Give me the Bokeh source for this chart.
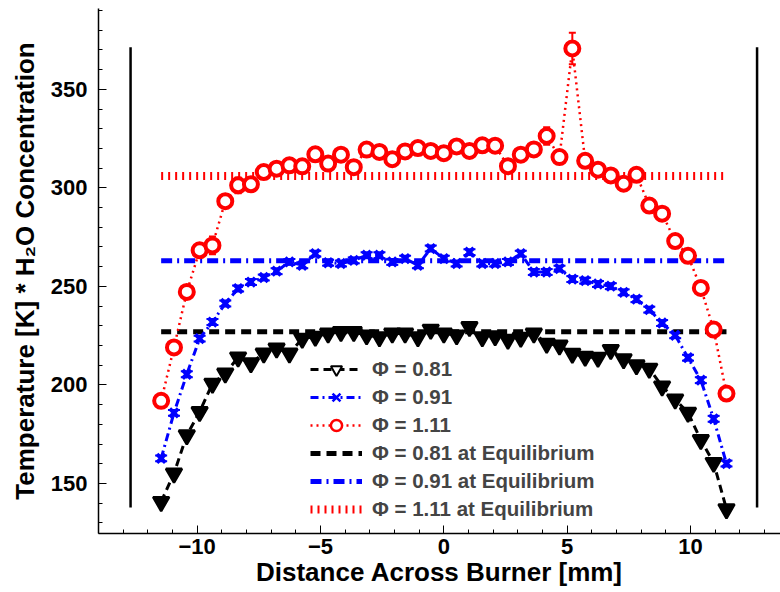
from bokeh.plotting import figure
from bokeh.models import (Range1d, SingleIntervalTicker, Whisker, TeeHead,
                          ColumnDataSource, Legend, LegendItem)
from bokeh.embed import file_html
from bokeh.resources import INLINE

# ---------------- data ----------------
distance_mm = [-11.46, -10.94, -10.42, -9.90, -9.38, -8.86, -8.34, -7.82, -7.30, -6.78,
               -6.26, -5.74, -5.21, -4.69, -4.17, -3.65, -3.13, -2.61, -2.09, -1.57,
               -1.05, -0.53, 0.00, 0.52, 1.04, 1.56, 2.08, 2.60, 3.12, 3.65,
               4.17, 4.69, 5.21, 5.73, 6.25, 6.77, 7.29, 7.81, 8.33, 8.85,
               9.38, 9.90, 10.42, 10.94, 11.46]

phi_081 = [140.7, 155.1, 174.5, 186.3, 200.7, 205.8, 214.0, 211.0, 216.0, 218.5,
           216.0, 223.5, 224.5, 226.1, 226.9, 226.9, 225.2, 224.3, 226.1, 226.1,
           224.3, 228.1, 226.1, 225.2, 229.4, 224.3, 224.7, 223.0, 224.0, 226.1,
           221.0, 220.0, 215.9, 214.3, 213.8, 217.8, 213.1, 210.0, 208.3, 199.3,
           192.7, 185.9, 172.1, 160.5, 137.0]

phi_091 = [162.7, 185.8, 205.4, 223.5, 231.9, 241.3, 248.9, 252.2, 254.5, 257.7,
           262.4, 260.7, 266.6, 262.0, 261.6, 263.2, 265.8, 265.8, 262.4, 264.1,
           260.7, 269.2, 264.1, 261.6, 267.4, 261.6, 261.6, 262.4, 266.6, 257.3,
           257.3, 259.0, 253.7, 252.9, 251.2, 250.1, 247.0, 243.5, 238.2, 231.4,
           225.2, 213.8, 202.4, 182.8, 160.1]

phi_111 = [191.9, 219.0, 247.2, 268.3, 270.8, 293.2, 301.3, 301.8, 308.0, 309.7,
           311.4, 310.9, 317.0, 312.3, 316.8, 310.5, 319.4, 318.2, 314.5, 318.5,
           320.2, 318.7, 317.6, 321.0, 318.7, 321.6, 321.4, 311.0, 316.8, 319.5,
           326.3, 315.6, 370.7, 313.7, 309.2, 306.3, 302.1, 306.6, 291.0, 286.9,
           273.0, 265.5, 249.2, 228.1, 195.6]

err_081 = [1.0] * 45
err_091 = [1.5] * 45
err_111 = [1.0, 1.0, 1.0, 1.0, 4.5, 1.0, 4.0, 1.0, 1.0, 1.0,
           1.0, 1.0, 1.0, 1.0, 1.0, 1.0, 1.0, 1.0, 1.0, 1.0,
           1.0, 1.0, 1.0, 1.0, 1.0, 1.0, 1.0, 1.0, 1.0, 1.0,
           4.5, 1.0, 8.0, 1.0, 1.0, 1.0, 1.0, 1.0, 1.0, 1.0,
           1.0, 1.0, 1.0, 1.0, 1.0]

equilibrium_x = [-11.46, 11.46]
equilibrium_081 = [227.0, 227.0]
equilibrium_091 = [263.0, 263.0]
equilibrium_111 = [306.0, 306.0]

burner_edge_x = [-12.7, 12.7]
burner_edge_bottom = [137.8, 137.8]
burner_edge_top = [371.4, 371.4]

labels = ["Φ = 0.81", "Φ = 0.91", "Φ = 1.11",
          "Φ = 0.81 at Equilibrium", "Φ = 0.91 at Equilibrium", "Φ = 1.11 at Equilibrium"]

FONT = "Liberation Sans"

# ---------------- figure ----------------
p = figure(width=780, height=592, output_backend="svg", toolbar_location=None,
           x_range=Range1d(-14.0, 13.65), y_range=Range1d(124.6, 391.0),
           min_border_left=98, min_border_right=0, min_border_top=8,
           min_border_bottom=59)
p.outline_line_color = None
p.xgrid.visible = False
p.ygrid.visible = False
p.background_fill_color = "white"

src = ColumnDataSource(dict(
    x=distance_mm, y081=phi_081, y091=phi_091, y111=phi_111,
    lo081=[a - b for a, b in zip(phi_081, err_081)], hi081=[a + b for a, b in zip(phi_081, err_081)],
    lo091=[a - b for a, b in zip(phi_091, err_091)], hi091=[a + b for a, b in zip(phi_091, err_091)],
    lo111=[a - b for a, b in zip(phi_111, err_111)], hi111=[a + b for a, b in zip(phi_111, err_111)],
))

# burner edges
p.segment(x0=burner_edge_x, y0=burner_edge_bottom, x1=burner_edge_x, y1=burner_edge_top,
          line_color="black", line_width=2.5)

# equilibrium lines
eq081 = p.line(equilibrium_x, equilibrium_081, line_color="black", line_width=5, line_dash="10 6")
eq091 = p.line(equilibrium_x, equilibrium_091, line_color="blue", line_width=5, line_dash="11 5 2 5")
eq111 = p.line(equilibrium_x, equilibrium_111, line_color="red", line_width=8, line_dash="2 5")

# data lines
l081 = p.line("x", "y081", source=src, line_color="black", line_width=3, line_dash="8 5")
l091 = p.line("x", "y091", source=src, line_color="blue", line_width=3, line_dash="8 4 2 4")
l111 = p.line("x", "y111", source=src, line_color="red", line_width=2.5, line_dash="2 4")

# markers
s081 = p.scatter("x", "y081", source=src, marker="inverted_triangle", size=16,
                 fill_color="black", line_color="black", line_width=2.5)
s091 = p.scatter("x", "y091", source=src, marker="x", size=12,
                 line_color="blue", line_width=4)
s111 = p.scatter("x", "y111", source=src, marker="circle", size=14,
                 fill_color="white", line_color="red", line_width=4)

# error bars
for lo, hi, col, w in [("lo081", "hi081", "white", 3), ("lo091", "hi091", "blue", 12),
                       ("lo111", "hi111", "red", 7)]:
    p.add_layout(Whisker(source=src, base="x", lower=lo, upper=hi, dimension="height",
                         line_color=col, line_width=2,
                         upper_head=TeeHead(size=w, line_color=col, line_width=2),
                         lower_head=TeeHead(size=w, line_color=col, line_width=2)))

# legend-only glyphs (lighter marker styling as in the original legend)
lg081 = p.scatter([0], [0], marker="inverted_triangle", size=12, fill_color="white",
                  line_color="black", line_width=2, visible=False)
lg091 = p.scatter([0], [0], marker="x", size=12, line_color="blue", line_width=2.5, visible=False)
lg111 = p.scatter([0], [0], marker="circle", size=12, fill_color="white",
                  line_color="red", line_width=2.5, visible=False)

legend = Legend(items=[
    LegendItem(label=labels[0], renderers=[l081, lg081]),
    LegendItem(label=labels[1], renderers=[l091, lg091]),
    LegendItem(label=labels[2], renderers=[l111, lg111]),
    LegendItem(label=labels[3], renderers=[eq081]),
    LegendItem(label=labels[4], renderers=[eq091]),
    LegendItem(label=labels[5], renderers=[eq111]),
], location=(212, 10))
legend.label_text_font = FONT
legend.label_text_font_style = "bold"
legend.label_text_font_size = "20.5px"
legend.glyph_width = 52
legend.glyph_height = 28
legend.label_height = 20
legend.label_standoff = 10
legend.spacing = 0
legend.padding = 0
legend.margin = 0
legend.border_line_color = None
legend.background_fill_alpha = 0
p.add_layout(legend)

# axes
p.xaxis.ticker = SingleIntervalTicker(interval=5, num_minor_ticks=5)
p.yaxis.ticker = SingleIntervalTicker(interval=50, num_minor_ticks=5)
for ax in (p.xaxis[0], p.yaxis[0]):
    ax.axis_line_width = 1.5
    ax.major_tick_in = 8
    ax.major_tick_out = 0
    ax.minor_tick_in = 4
    ax.minor_tick_out = 0
    ax.major_tick_line_width = 1
    ax.minor_tick_line_width = 1
    ax.major_label_text_font = FONT
    ax.major_label_text_font_style = "bold"
    ax.major_label_text_font_size = "22px"
    ax.major_label_text_color = "black"
    ax.axis_label_text_font = FONT
    ax.axis_label_text_font_style = "bold"
    ax.axis_label_text_font_size = "26px"
    ax.axis_label_text_color = "black"
p.xaxis.major_label_standoff = 5
p.xaxis.axis_label_standoff = 0
p.yaxis.major_label_standoff = 11
p.yaxis.axis_label_standoff = 8
p.xaxis.axis_label = "Distance Across Burner [mm]"
p.yaxis.axis_label = "Temperature [K] * H₂O Concentration"

open("out.html", "w").write(file_html(p, INLINE))
